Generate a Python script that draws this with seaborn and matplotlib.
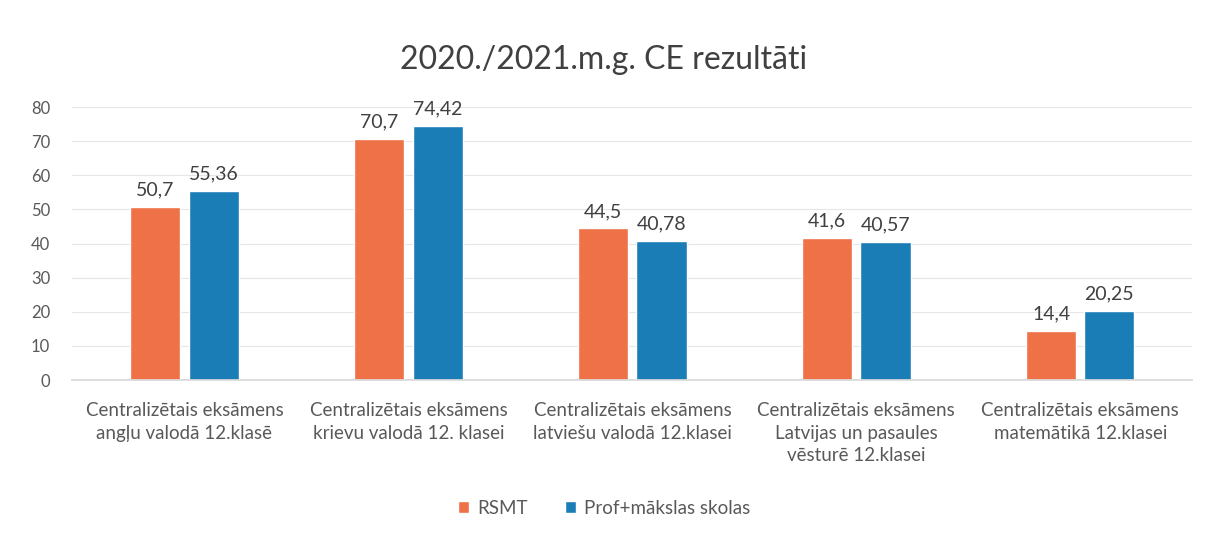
import matplotlib
matplotlib.use("Agg")
import matplotlib.pyplot as plt
import seaborn as sns
import pandas as pd

categories = [
    "Centralizētais eksāmens\nangļu valodā 12.klasē",
    "Centralizētais eksāmens\nkrievu valodā 12. klasei",
    "Centralizētais eksāmens\nlatviešu valodā 12.klasei",
    "Centralizētais eksāmens\nLatvijas un pasaules\nvēsturē 12.klasei",
    "Centralizētais eksāmens\nmatemātikā 12.klasei",
]
series_names = ["RSMT", "Prof+mākslas skolas"]
rsmt = [50.7, 70.7, 44.5, 41.6, 14.4]
prof = [55.36, 74.42, 40.78, 40.57, 20.25]
yticks = [0, 10, 20, 30, 40, 50, 60, 70, 80]

df = pd.DataFrame({
    "cat": categories * 2,
    "series": [series_names[0]] * 5 + [series_names[1]] * 5,
    "value": rsmt + prof,
})

sns.set_theme(style="white")
plt.rcParams["font.family"] = ["Lato", "DejaVu Sans"]

fig = plt.figure(figsize=(12.08, 5.33), dpi=100)
ax = fig.add_axes([0.06, 0.287, 0.927, 0.512])

palette = {series_names[0]: "#EE7148", series_names[1]: "#1B7DB6"}
sns.barplot(data=df, x="cat", y="value", hue="series", order=categories,
            hue_order=series_names, palette=palette, width=0.52, gap=0.14,
            saturation=1, ax=ax, legend=True)

ax.set_ylim(0, 80)
ax.set_yticks(yticks)
ax.set_yticklabels([str(t) for t in yticks], color="#595959", fontsize=12)
ax.yaxis.grid(True, color="#E6E6E6", linewidth=0.8)
ax.set_axisbelow(True)
for s in ["top", "right", "left"]:
    ax.spines[s].set_visible(False)
ax.spines["bottom"].set_color("#D9D9D9")
ax.tick_params(axis="y", length=0, pad=16)
ax.tick_params(axis="x", length=0, pad=16)
ax.set_xlabel("")
ax.set_ylabel("")
ax.set_xticks(range(len(categories)))
ax.set_xticklabels(categories, color="#595959", fontsize=13.5, linespacing=1.4, va="top")

for cont in ax.containers:
    labels = [("%g" % b.get_height()).replace(".", ",") for b in cont]
    ax.bar_label(cont, labels=labels, padding=6, fontsize=14, color="#404040")

fig.text(0.5, 0.887, "2020./2021.m.g. CE rezultāti", ha="center", va="center",
         fontsize=23, color="#404040")

handles, labs = ax.get_legend_handles_labels()
ax.legend_.remove()
fig.legend(handles, labs, loc="center", bbox_to_anchor=(0.5, 0.046), ncol=2,
           frameon=False, fontsize=13.5, handlelength=0.6, handleheight=0.6,
           columnspacing=2.0, handletextpad=0.4, labelcolor="#595959")

fig.savefig("out.png", dpi=100, facecolor="white")
